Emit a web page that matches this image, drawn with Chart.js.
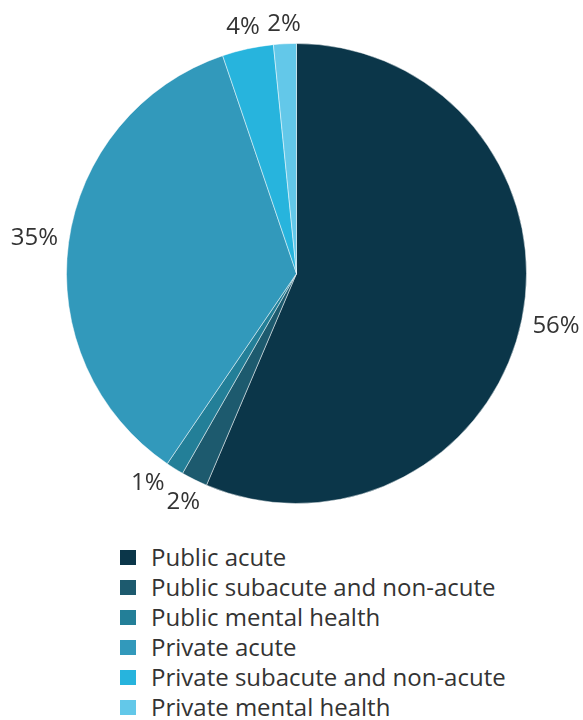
<!DOCTYPE html>
<html>
<head>
<meta charset="utf-8">
<script src="https://cdn.jsdelivr.net/npm/chart.js@4/dist/chart.umd.min.js"></script>
<style>
  html, body { margin: 0; padding: 0; background: #fff; }
  #wrap { position: relative; width: 583px; height: 720px; }
  #pie { position: absolute; left: 0; top: 0; }
  #legend { position: absolute; left: 120px; top: 542px; margin: 0; padding: 0; list-style: none;
            font-family: 'Open Sans', 'Noto Sans', sans-serif; font-size: 24px; color: #333; }
  #legend li { height: 30px; line-height: 30px; display: flex; align-items: center; white-space: nowrap; }
  #legend span.box { width: 16px; height: 15px; margin-right: 15px; display: inline-block; flex: none; }
</style>
</head>
<body>
<div id="wrap">
  <canvas id="pie" width="583" height="540"></canvas>
  <ul id="legend"></ul>
</div>
<script>
// 카테고리와 비율 (%)
const categories = ['Public acute', 'Public subacute and non-acute', 'Public mental health',
                    'Private acute', 'Private subacute and non-acute', 'Private mental health'];
const shares = [56.4, 1.85, 1.25, 35.3, 3.6, 1.6];
const colors = ['#0b3649', '#1d5a6e', '#237f98', '#3299bb', '#27b4dd', '#63c8e9'];

// 범례
const legend = document.getElementById('legend');
categories.forEach((c, i) => {
    const li = document.createElement('li');
    li.innerHTML = '<span class="box" style="background:' + colors[i] + '"></span>' + c;
    legend.appendChild(li);
});

// 조각 바깥쪽 퍼센트 라벨 (겹치면 조금씩 돌려서 배치)
const outsideLabels = {
    id: 'outsideLabels',
    afterDatasetsDraw(chart) {
        const ctx = chart.ctx;
        const meta = chart.getDatasetMeta(0);
        const placed = [];
        ctx.save();
        ctx.font = '24px "Open Sans", "Noto Sans", sans-serif';
        ctx.fillStyle = '#333';
        ctx.textAlign = 'center';
        ctx.textBaseline = 'middle';
        meta.data.forEach((arc, i) => {
            const p = arc.getProps(['x', 'y', 'startAngle', 'endAngle', 'outerRadius'], true);
            const text = Math.round(shares[i]) + '%';
            const w = ctx.measureText(text).width;
            const h = 17;
            let ang = (p.startAngle + p.endAngle) / 2;
            let box;
            for (let k = 0; k < 60; k++) {
                const dx = Math.cos(ang), dy = Math.sin(ang);
                const d = p.outerRadius + 10 + Math.abs(dx) * w / 2 + Math.abs(dy) * h / 2;
                const x = p.x + dx * d, y = p.y + dy * d;
                box = { x, y, l: x - w / 2, r: x + w / 2, t: y - h / 2, b: y + h / 2 };
                const hit = placed.some(q => box.l < q.r + 1 && box.r > q.l - 1 && box.t < q.b + 1 && box.b > q.t - 1);
                if (!hit) break;
                ang += 0.01;
            }
            placed.push(box);
            ctx.fillText(text, box.x, box.y);
        });
        ctx.restore();
    }
};

new Chart(document.getElementById('pie'), {
    type: 'pie',
    data: {
        labels: categories,
        datasets: [{
            data: shares,
            backgroundColor: colors,
            borderColor: 'rgba(255,255,255,0.6)',
            borderWidth: 0.8,
            radius: 230
        }]
    },
    options: {
        responsive: false,
        animation: false,
        layout: { padding: { left: 67, right: 57, top: 42, bottom: 35 } },
        plugins: {
            legend: { display: false },
            tooltip: { enabled: false }
        }
    },
    plugins: [outsideLabels]
});
</script>
</body>
</html>
